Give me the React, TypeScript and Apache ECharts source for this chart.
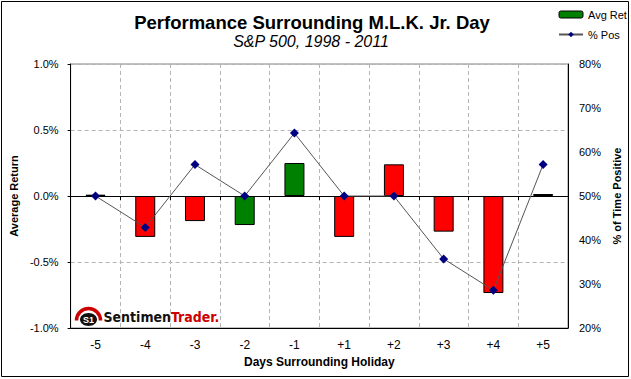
import React, { useEffect, useRef } from "react";
import * as echarts from "echarts";

const categories = ["-5", "-4", "-3", "-2", "-1", "+1", "+2", "+3", "+4", "+5"];
const avgRet = [0.01, -0.31, -0.19, -0.22, 0.25, -0.31, 0.24, -0.27, -0.735, 0.015];
const pctPos = [50, 42.86, 57.14, 50, 64.29, 50, 50, 35.71, 28.57, 57.14];
const barColorKeys = ["g", "r", "r", "g", "g", "r", "r", "r", "r", "r"];

const GREEN = "#008000";
const RED = "#FF0000";
const FONT = "Liberation Sans, Arial, sans-serif";

export default function App() {
  const ref = useRef<HTMLDivElement>(null);
  useEffect(() => {
    if (!ref.current) return;
    const chart = echarts.init(ref.current, undefined, { renderer: "svg" });
    const option: any = {
      animation: false,
      backgroundColor: "#fff",
      textStyle: { fontFamily: FONT },
      title: [
        {
          text: "Performance Surrounding M.L.K. Jr. Day",
          left: 307,
          textAlign: "center",
          top: 8,
          textStyle: { fontSize: 18.5, fontWeight: "bold", color: "#000", fontFamily: FONT },
        },
        {
          text: "S&P 500, 1998 - 2011",
          left: 306,
          textAlign: "center",
          top: 28,
          textStyle: { fontSize: 16, fontStyle: "italic", fontWeight: "normal", color: "#000", fontFamily: FONT },
        },
      ],
      legend: {
        orient: "vertical",
        left: 558,
        top: 9,
        padding: 0,
        itemWidth: 24,
        itemHeight: 7,
        itemGap: 9,
        textStyle: { fontSize: 11, color: "#000", fontFamily: FONT },
        data: [
          { name: "Avg Ret", itemStyle: { color: GREEN, borderColor: "#000", borderWidth: 1 } },
          { name: "% Pos" },
        ],
      },
      grid: {
        left: 66,
        top: 64,
        width: 502,
        height: 264,
        show: true,
        borderColor: "#808080",
        borderWidth: 1,
        backgroundColor: "#fff",
      },
      xAxis: [
        {
          type: "category",
          data: categories,
          position: "bottom",
          axisLine: { onZero: false, lineStyle: { color: "#000", width: 1 } },
          axisTick: { show: false },
          axisLabel: { fontSize: 12, color: "#000", margin: 11, fontFamily: FONT },
          splitLine: { show: true, lineStyle: { color: "#b4b4b4", type: [4, 3], width: 1 } },
          name: "Days Surrounding Holiday",
          nameLocation: "middle",
          nameGap: 26,
          nameTextStyle: { fontSize: 12, fontWeight: "bold", color: "#000", fontFamily: FONT },
        },
        {
          type: "category",
          data: categories,
          position: "bottom",
          axisLine: { onZero: true, onZeroAxisIndex: 0, lineStyle: { color: "#000", width: 1 } },
          axisTick: { show: true, length: 4, lineStyle: { color: "#000" } },
          axisLabel: { show: false },
          splitLine: { show: false },
        },
      ],
      yAxis: [
        {
          type: "value",
          min: -1,
          max: 1,
          interval: 0.5,
          axisLine: { show: true, lineStyle: { color: "#000", width: 1 } },
          axisTick: { show: true, length: 3, lineStyle: { color: "#000" } },
          axisLabel: {
            fontSize: 11,
            color: "#000",
            margin: 12,
            fontFamily: FONT,
            formatter: (v: number) => v.toFixed(1) + "%",
          },
          splitLine: { show: true, lineStyle: { color: "#b4b4b4", type: [4, 3], width: 1 } },
          name: "Average Return",
          nameLocation: "middle",
          nameGap: 46,
          nameRotate: 90,
          nameTextStyle: { fontSize: 11, fontWeight: "bold", color: "#000", fontFamily: FONT },
        },
        {
          type: "value",
          min: 20,
          max: 80,
          interval: 10,
          position: "right",
          axisLine: { show: true, lineStyle: { color: "#000", width: 1 } },
          axisTick: { show: false },
          axisLabel: {
            fontSize: 11,
            color: "#000",
            margin: 11,
            fontFamily: FONT,
            formatter: (v: number) => v + "%",
          },
          splitLine: { show: false },
          name: "% of Time Positive",
          nameLocation: "middle",
          nameGap: 37,
          nameRotate: 90,
          nameTextStyle: { fontSize: 11, fontWeight: "bold", color: "#000", fontFamily: FONT },
        },
      ],
      series: [
        {
          name: "Avg Ret",
          type: "bar",
          xAxisIndex: 0,
          yAxisIndex: 0,
          barWidth: 20,
          itemStyle: { color: GREEN, borderColor: "#000", borderWidth: 1 },
          data: avgRet.map((v, i) => ({
            value: v,
            itemStyle: { color: barColorKeys[i] === "g" ? GREEN : RED },
          })),
          z: 2,
        },
        {
          name: "% Pos",
          type: "line",
          xAxisIndex: 0,
          yAxisIndex: 1,
          data: pctPos,
          symbol: "diamond",
          symbolSize: 9,
          lineStyle: { color: "#555", width: 1 },
          itemStyle: { color: "#000080" },
          z: 5,
        },
      ],
      graphic: [
        {
          type: "rect",
          shape: { x: 1.5, y: 1.5, width: 627, height: 375 },
          style: { fill: "none", stroke: "#000", lineWidth: 1 },
          silent: true,
        },
        {
          type: "group",
          left: 74,
          top: 306,
          children: [
            {
              type: "arc",
              shape: { cx: 14, cy: 15, r: 12, startAngle: Math.PI, endAngle: 2 * Math.PI },
              style: { stroke: "#cc0000", lineWidth: 3.5, fill: "none" },
            },
            {
              type: "ellipse",
              shape: { cx: 14, cy: 14, rx: 8.5, ry: 6.5 },
              style: { fill: "#111" },
            },
            {
              type: "text",
              style: {
                text: "S1",
                x: 14,
                y: 14,
                align: "center",
                verticalAlign: "middle",
                fill: "#fff",
                font: "bold 9px Liberation Sans, Arial",
              },
            },
            {
              type: "text",
              style: {
                x: 29,
                y: 11,
                verticalAlign: "middle",
                text: "{a|Sentimen}{b|Trader.}",
                rich: {
                  a: { fill: "#111", fontSize: 14, fontWeight: "bold", fontFamily: "Liberation Sans Narrow, DejaVu Sans Condensed, sans-serif" },
                  b: { fill: "#cc0000", fontSize: 14, fontWeight: "bold", fontFamily: "Liberation Sans Narrow, DejaVu Sans Condensed, sans-serif" },
                },
              },
            },
          ],
        },
      ],
    };
    chart.setOption(option);
    return () => chart.dispose();
  }, []);
  return (
    <div
      ref={ref}
      style={{ width: 631, height: 379, position: "fixed", left: 0, top: 0 }}
    />
  );
}
